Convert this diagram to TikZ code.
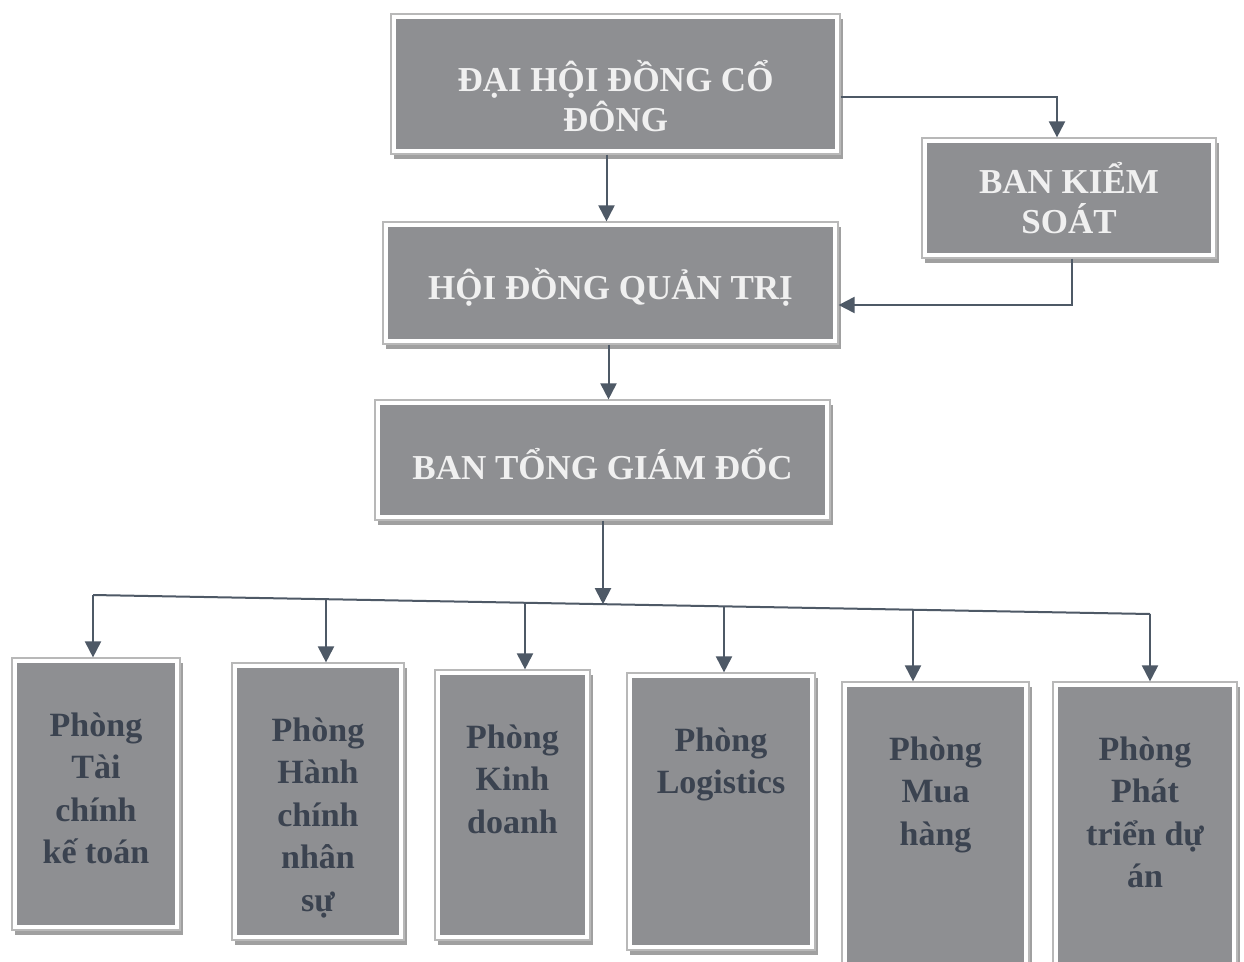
\documentclass[tikz,border=0pt]{standalone}
\usepackage{fontspec}
\setmainfont{Liberation Serif}
\usetikzlibrary{arrows.meta,shadows,calc}
\definecolor{boxgray}{HTML}{8E8F92}
\definecolor{framegray}{HTML}{B8B8B8}
\definecolor{shadowgray}{HTML}{A0A0A0}
\definecolor{arrowcol}{HTML}{4E5966}
\definecolor{toptext}{HTML}{F0F0F0}
\definecolor{bottext}{HTML}{3B4350}
\begin{document}
\begin{tikzpicture}[x=1pt,y=-1pt,
  frame/.style={draw=framegray, line width=1.2pt, fill=white, inner sep=0pt,
    general shadow={shadow xshift=3pt, shadow yshift=-5pt, fill=shadowgray},
    path picture={\fill[boxgray] ([shift={(5pt,-5pt)}]path picture bounding box.north west) rectangle ([shift={(-5pt,5pt)}]path picture bounding box.south east);}},
  ttext/.style={text=toptext, font=\bfseries\fontsize{35}{40}\selectfont, align=center, inner sep=0pt},
  btext/.style={text=bottext, font=\bfseries\fontsize{34}{42.5}\selectfont, align=center, inner sep=0pt, anchor=north},
  arr/.style={draw=arrowcol, line width=2pt, -{Triangle[width=16pt,length=16pt]}},
  busline/.style={draw=arrowcol, line width=2pt}]
\useasboundingbox (0,0) rectangle (1244,961);
\fill[white] (0,0) rectangle (1244,961);

% top boxes
\node[frame, minimum width=449pt, minimum height=140pt] (dh) at (615.5,84) {};
\node[frame, minimum width=294pt, minimum height=120pt] (bks) at (1069,198) {};
\node[frame, minimum width=455pt, minimum height=122pt] (hd) at (610.5,283) {};
\node[frame, minimum width=455pt, minimum height=120pt] (bt) at (602.5,460) {};

\node[ttext] (dht) at ([yshift=-12pt]dh.center) {ĐẠI HỘI ĐỒNG CỔ\\ĐÔNG};
\node[ttext] (bkst) at (bks.center) {BAN KIỂM\\SOÁT};
\node[ttext] (hdt) at ([yshift=-4pt]hd.center) {HỘI ĐỒNG QUẢN TRỊ};
\node[ttext] (btt) at ([yshift=-4pt]bt.center) {BAN TỔNG GIÁM ĐỐC};

% bottom boxes
\node[frame, minimum width=168pt, minimum height=272pt] (p1) at (96,794) {};
\node[frame, minimum width=172pt, minimum height=277pt] (p2) at (318,801.5) {};
\node[frame, minimum width=155pt, minimum height=270pt] (p3) at (512.5,805) {};
\node[frame, minimum width=188pt, minimum height=277pt] (p4) at (721,811.5) {};
\node[frame, minimum width=187pt, minimum height=285pt] (p5) at (935.5,824.5) {};
\node[frame, minimum width=184pt, minimum height=285pt] (p6) at (1145,824.5) {};

\node[btext] (p1t) at ([yshift=-55pt]p1.north) {Phòng\\Tài\\chính\\kế toán};
\node[btext] (p2t) at ([yshift=-55pt]p2.north) {Phòng\\Hành\\chính\\nhân\\sự};
\node[btext] (p3t) at ([yshift=-55pt]p3.north) {Phòng\\Kinh\\doanh};
\node[btext] (p4t) at ([yshift=-55pt]p4.north) {Phòng\\Logistics};
\node[btext] (p5t) at ([yshift=-55pt]p5.north) {Phòng\\Mua\\hàng};
\node[btext] (p6t) at ([yshift=-55pt]p6.north) {Phòng\\Phát\\triển dự\\án};

% connectors top
\draw[arr] ([xshift=-9pt]dh.south) -- ([xshift=-9pt]dh.south |- hd.north);
\draw[arr] ([yshift=-13pt]dh.east) -| ([xshift=-12pt]bks.north);
\draw[arr] ([xshift=3pt]bks.south) |- ([yshift=-22pt]hd.east);
\draw[arr] ([xshift=-2pt]hd.south) -- ([xshift=-2pt]hd.south |- bt.north);

% bus
\coordinate (busL) at (93,595);
\coordinate (busR) at (1150,614);
\coordinate (bj) at (603,604.2);
\coordinate (b1) at (93,595);
\coordinate (b2) at (326,599.2);
\coordinate (b3) at (525,602.8);
\coordinate (b4) at (724,606.3);
\coordinate (b5) at (913,609.7);
\coordinate (b6) at (1150,614);
\draw[busline] (busL) -- (busR);
\draw[arr] (bt.south -| bj) -- (bj);
\draw[arr] (b1) -- (b1 |- p1.north);
\draw[arr] (b2) -- (b2 |- p2.north);
\draw[arr] (b3) -- (b3 |- p3.north);
\draw[arr] (b4) -- (b4 |- p4.north);
\draw[arr] (b5) -- (b5 |- p5.north);
\draw[arr] (b6) -- (b6 |- p6.north);
\end{tikzpicture}
\end{document}
